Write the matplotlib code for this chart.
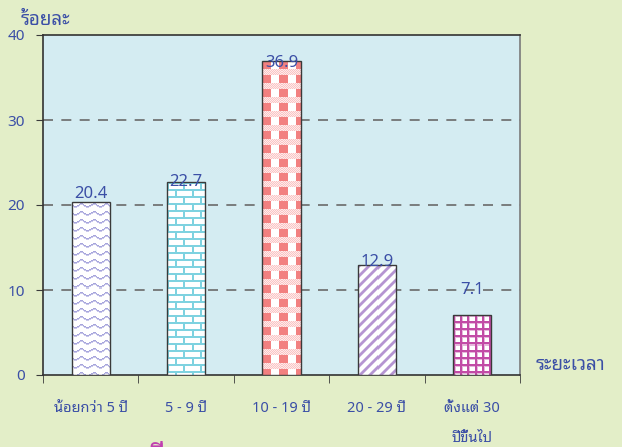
import numpy as np
import matplotlib
matplotlib.use("Agg")
import matplotlib.pyplot as plt
from matplotlib.ticker import FixedLocator

plt.rcParams['font.family'] = ['Noto Sans Thai Looped', 'DejaVu Sans']

# data
categories = ['น้อยกว่า 5 ปี', '5 - 9 ปี', '10 - 19 ปี', '20 - 29 ปี', 'ตั้งแต่ 30\nปีขึ้นไป']
values = [20.4, 22.7, 36.9, 12.9, 7.1]
y_ticks = [0, 10, 20, 30, 40]
y_title = 'ร้อยละ'
x_title = 'ระยะเวลา'

text_col = '#3B4FA6'
fig_bg = '#E3EEC8'
ax_bg = '#D4ECF2'


def rgb(col):
    return np.array(matplotlib.colors.to_rgb(col))


def tile_wave(col):
    c = rgb(col)
    t = np.ones((8, 12, 3))
    for x in range(12):
        y = int(round(3.5 + 1.6 * np.sin(2 * np.pi * x / 12)))
        t[y % 8, x] = c
        t[(y + 1) % 8, x] = 0.6 * c + 0.4
    return t


def tile_brick(col):
    c = rgb(col)
    t = np.ones((14, 16, 3))
    t[0:2, :] = c
    t[7:9, :] = c
    t[2:7, 0:2] = c
    t[9:14, 8:10] = c
    return t


def tile_check(col):
    c = rgb(col)
    light = 0.45 * c + 0.55
    t = np.ones((14, 16, 3))
    t[0:8, 1:9] = c
    for y in range(8, 14):
        for x in range(16):
            if (x + y) % 2 == 0:
                t[y, x] = light
            else:
                t[y, x] = np.array([1, 0.92, 0.92])
    return t


def tile_diag(col):
    c = rgb(col)
    t = np.ones((10, 10, 3))
    for y in range(10):
        for x in range(10):
            d = (x + y) % 10
            if d < 3:
                t[y, x] = c
            elif d == 3 or d == 9:
                t[y, x] = 0.5 * c + 0.5
    return t


def tile_grid(col):
    c = rgb(col)
    t = np.ones((7, 7, 3))
    t[:, 0:2] = c
    t[0:2, :] = c
    t[2:, 2] = 0.4 * c + 0.6
    t[2, 2:] = 0.4 * c + 0.6
    return t


tiles = [tile_wave('#A6A4DC'), tile_brick('#7ED2E0'), tile_check('#F28080'),
         tile_diag('#B595D2'), tile_grid('#C24BA6')]

fig = plt.figure(figsize=(6.22, 4.47), dpi=100, facecolor=fig_bg)
ax = fig.add_axes([43 / 622, 1 - 375 / 447, 477 / 622, 340 / 447])
ax.set_facecolor(ax_bg)

x = np.arange(len(values))
ax.set_xlim(-0.5, len(values) - 0.5)
ax.set_ylim(0, 40)

bars = ax.bar(x, values, width=0.4, facecolor='none', edgecolor='#3a3a3a',
              linewidth=1.0, zorder=4)

# textures clipped to each bar
for b, t in zip(bars, tiles):
    x0, x1 = b.get_x(), b.get_x() + b.get_width()
    h = b.get_height()
    p0 = ax.transData.transform((x0, 0))
    p1 = ax.transData.transform((x1, h))
    wpx = int(round(p1[0] - p0[0]))
    hpx = int(round(p1[1] - p0[1]))
    ny = hpx // t.shape[0] + 2
    nx = wpx // t.shape[1] + 2
    img = np.tile(t, (ny, nx, 1))[:hpx, :wpx]
    im = ax.imshow(img, extent=(x0, x1, 0, h), aspect='auto',
                   interpolation='nearest', origin='upper', zorder=3)
    im.set_clip_path(b)

# grid
for v in y_ticks[1:-1]:
    ax.axhline(v, color='#6a6a6a', linestyle=(0, (6, 5)), linewidth=1.2, zorder=1)

# value labels
offs = [0, -6, -7, -3, 12]
for b, v, o in zip(bars, values, offs):
    ax.annotate(f'{v:.1f}', (b.get_x() + b.get_width() / 2, v),
                xytext=(0, o), textcoords='offset points', ha='center',
                va='bottom', color=text_col, fontsize=12, zorder=5)

ax.yaxis.set_major_locator(FixedLocator(y_ticks))
ax.set_yticklabels([str(v) for v in y_ticks], color=text_col, fontsize=11,
                   fontweight='bold')
ax.tick_params(axis='y', direction='out', length=5, color='#3a3a3a', pad=8)

ax.set_xticks(x)
ax.set_xticklabels(categories, color=text_col, fontsize=10.5, linespacing=2.3,
                   va='top', fontweight='medium')
ax.tick_params(axis='x', which='major', length=0, pad=19)
ax.xaxis.set_minor_locator(FixedLocator(np.arange(-0.5, len(values), 1.0)))
ax.tick_params(axis='x', which='minor', direction='out', length=6, color='#3a3a3a')

for s in ['left', 'bottom', 'top']:
    ax.spines[s].set_color('#333333')
    ax.spines[s].set_linewidth(1.2)
ax.spines['right'].set_color('#7a7a7a')
ax.spines['right'].set_linewidth(1.2)

fig.text(21 / 622, 1 - 20 / 447, y_title, color=text_col, fontsize=13.5,
         fontweight='bold', va='center', ha='left')
fig.text(536 / 622, 1 - 365 / 447, x_title, color=text_col, fontsize=13.5,
         va='center', ha='left')

# cut-off heading at bottom edge
fig.text(147 / 622, -0.040, 'ที่มา', color='#C040B0', fontsize=20,
         fontweight='bold', va='baseline', ha='left')

fig.savefig('out.png', dpi=100, facecolor=fig_bg)
